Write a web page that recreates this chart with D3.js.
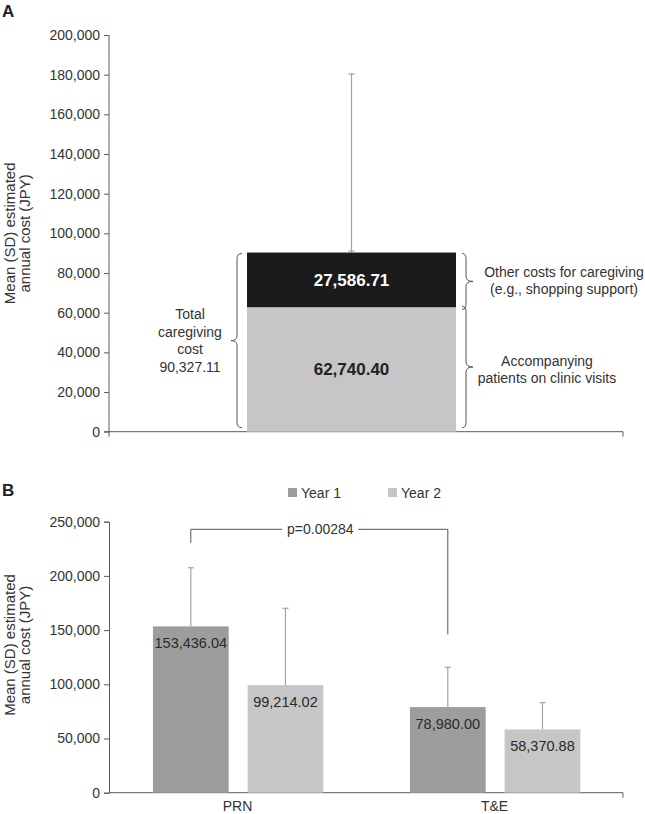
<!DOCTYPE html>
<html>
<head>
<meta charset="utf-8">
<script src="https://cdn.jsdelivr.net/npm/d3@7"></script>
<style>
  html, body { margin: 0; padding: 0; background: #fff; }
  svg { display: block; font-family: "Liberation Sans", Arial, sans-serif; }
</style>
</head>
<body>
<svg id="chart" width="645" height="814"></svg>
<script>
// ---------- Panel A data ----------
const categoriesA = ["Total caregiving"];
const segmentNames = ["Accompanying patients on clinic visits", "Other costs for caregiving"];
const segmentValues = [62740.40, 27586.71];
const totalA = 90327.11;
const totalSD_A = 90000;
const yTicksA = [0, 20000, 40000, 60000, 80000, 100000, 120000, 140000, 160000, 180000, 200000];

// ---------- Panel B data ----------
const groupsB = ["PRN", "T&E"];
const seriesB = ["Year 1", "Year 2"];
const year1Means = [153436.04, 78980.00];
const year2Means = [99214.02, 58370.88];
const year1SD = [54100, 36700];
const year2SD = [70900, 24700];
const yTicksB = [0, 50000, 100000, 150000, 200000, 250000];
const pLabel = "p=0.00284";
const pBracket = { top: 243000, leftEnd: 230500, rightEnd: 146000 };

const fmt = d3.format(",");
const fmt2 = d3.format(",.2f");
const axisColor = "#5c5c5c";
const textColor = "#333";
const errColor = "#a3a3a3";

const svg = d3.select("#chart");

function styleAxis(g) {
  g.select(".domain").attr("stroke", axisColor);
  g.selectAll(".tick line").attr("stroke", axisColor);
  g.selectAll(".tick text").attr("fill", textColor).style("font-size", "14px");
}

function brace(x0, y1, y2, dir, rx, tip) {
  const xv = x0 + dir * rx, xt = x0 + dir * (rx + tip), ym = (y1 + y2) / 2, r = 5;
  return `M${x0},${y1} Q${xv},${y1} ${xv},${y1 + r} L${xv},${ym - r} Q${xv},${ym} ${xt},${ym}` +
         ` Q${xv},${ym} ${xv},${ym + r} L${xv},${y2 - r} Q${xv},${y2} ${x0},${y2}`;
}

// ================= PANEL A =================
const left = 109, right = 623;
const yA = d3.scaleLinear().domain([0, 200000]).range([431.7, 35]);
const xA = d3.scaleBand().domain(categoriesA).range([247, 456]);

svg.append("text").attr("x", 2).attr("y", 17).text("A")
  .style("font-size", "17px").style("font-weight", "bold").attr("fill", "#222");

const gA = svg.append("g");
gA.append("g").attr("transform", `translate(${left},0)`)
  .call(d3.axisLeft(yA).tickValues(yTicksA).tickFormat(fmt).tickSize(5).tickPadding(4))
  .call(styleAxis)
  .call(g => g.select(".domain").attr("d", `M0,${yA(200000)}V${yA(0) + 5}`));

gA.append("path").attr("fill", "none").attr("stroke", axisColor)
  .attr("d", `M${left - 5},${yA(0)}H${right}V${yA(0) + 5}`);

const stackA = [];
let acc = 0;
segmentValues.forEach((v, i) => { stackA.push({ name: segmentNames[i], y0: acc, y1: acc + v, v }); acc += v; });
const segColors = ["#c6c6c6", "#1b1b1b"];
const segText = ["#222", "#fff"];

const cxA = xA(categoriesA[0]) + xA.bandwidth() / 2;
gA.append("line").attr("x1", cxA).attr("x2", cxA)
  .attr("y1", yA(totalA)).attr("y2", yA(totalA + totalSD_A))
  .attr("stroke", errColor).attr("stroke-width", 1.2);
gA.append("line").attr("x1", cxA - 3).attr("x2", cxA + 3)
  .attr("y1", yA(totalA + totalSD_A)).attr("y2", yA(totalA + totalSD_A))
  .attr("stroke", errColor).attr("stroke-width", 1.2);
gA.append("line").attr("x1", cxA - 3).attr("x2", cxA + 3)
  .attr("y1", yA(totalA) - 1.5).attr("y2", yA(totalA) - 1.5)
  .attr("stroke", errColor).attr("stroke-width", 1.2);

gA.selectAll("rect.seg").data(stackA).join("rect").attr("class", "seg")
  .attr("x", xA(categoriesA[0])).attr("width", xA.bandwidth())
  .attr("y", d => yA(d.y1)).attr("height", d => yA(d.y0) - yA(d.y1))
  .attr("fill", (d, i) => segColors[i]);

gA.selectAll("text.segl").data(stackA).join("text").attr("class", "segl")
  .attr("x", cxA).attr("y", d => (yA(d.y0) + yA(d.y1)) / 2)
  .attr("dy", "0.35em").attr("text-anchor", "middle")
  .style("font-size", "17px").style("font-weight", "bold")
  .attr("fill", (d, i) => segText[i]).text(d => fmt2(d.v));

const braceStyle = p => p.attr("fill", "none").attr("stroke", "#555").attr("stroke-width", 1);
gA.append("path").attr("d", brace(242, yA(totalA) + 1, yA(0) - 4, -1, 5, 6)).call(braceStyle);
gA.append("path").attr("d", brace(462, yA(stackA[1].y1) + 1, yA(stackA[1].y0) + 2, 1, 4, 7)).call(braceStyle);
gA.append("path").attr("d", brace(462, yA(stackA[0].y1) - 1, yA(0) - 4, 1, 4, 7)).call(braceStyle);

const leftLines = ["Total", "caregiving", "cost", fmt2(totalA)];
gA.append("text").attr("text-anchor", "middle").attr("fill", textColor).style("font-size", "14px")
  .selectAll("tspan").data(leftLines).join("tspan")
  .attr("x", 190).attr("y", (d, i) => 319 + i * 17.5).text(d => d);
gA.append("text").attr("text-anchor", "middle").attr("fill", textColor).style("font-size", "14px")
  .selectAll("tspan").data(["Other costs for caregiving", "(e.g., shopping support)"]).join("tspan")
  .attr("x", 564).attr("y", (d, i) => 277 + i * 16.5).text(d => d);
gA.append("text").attr("text-anchor", "middle").attr("fill", textColor).style("font-size", "14px")
  .selectAll("tspan").data(["Accompanying", "patients on clinic visits"]).join("tspan")
  .attr("x", 547).attr("y", (d, i) => 366 + i * 16.5).text(d => d);

svg.append("text").attr("transform", `translate(15,${(yA(0) + yA(200000)) / 2}) rotate(-90)`)
  .attr("text-anchor", "middle").attr("fill", textColor).style("font-size", "15px")
  .selectAll("tspan").data(["Mean (SD) estimated", "annual cost (JPY)"]).join("tspan")
  .attr("x", 0).attr("y", (d, i) => i * 15).text(d => d);

// ================= PANEL B =================
const yB = d3.scaleLinear().domain([0, 250000]).range([792.7, 521.7]);
const x0B = d3.scaleBand().domain(groupsB).range([left, right]);
const bw = x0B.bandwidth();
const x1B = d3.scaleBand().domain(seriesB).range([bw * 0.171, bw * 0.834]).paddingInner(0.2);
const colorsB = ["#9d9d9d", "#c6c6c6"];

svg.append("text").attr("x", 2).attr("y", 496).text("B")
  .style("font-size", "17px").style("font-weight", "bold").attr("fill", "#222");

const gB = svg.append("g");
gB.append("g").attr("transform", `translate(${left},0)`)
  .call(d3.axisLeft(yB).tickValues(yTicksB).tickFormat(fmt).tickSize(5).tickPadding(4))
  .call(styleAxis);
gB.append("path").attr("fill", "none").attr("stroke", axisColor)
  .attr("d", `M${left},${yB(0)}H${right}V${yB(0) + 5}`);

gB.selectAll("text.xl").data(groupsB).join("text").attr("class", "xl")
  .attr("x", d => x0B(d) + bw / 2).attr("y", yB(0) + 18.5)
  .attr("text-anchor", "middle").attr("fill", textColor).style("font-size", "14px").text(d => d);

const barsB = [];
groupsB.forEach((g, i) => {
  barsB.push({ group: g, series: seriesB[0], v: year1Means[i], sd: year1SD[i], c: colorsB[0] });
  barsB.push({ group: g, series: seriesB[1], v: year2Means[i], sd: year2SD[i], c: colorsB[1] });
});
const bx = d => x0B(d.group) + x1B(d.series);
const bc = d => bx(d) + x1B.bandwidth() / 2;

gB.selectAll("line.err").data(barsB).join("line").attr("class", "err")
  .attr("x1", bc).attr("x2", bc).attr("y1", d => yB(d.v)).attr("y2", d => yB(d.v + d.sd))
  .attr("stroke", errColor).attr("stroke-width", 1.2);
gB.selectAll("line.cap").data(barsB).join("line").attr("class", "cap")
  .attr("x1", d => bc(d) - 3).attr("x2", d => bc(d) + 3)
  .attr("y1", d => yB(d.v + d.sd)).attr("y2", d => yB(d.v + d.sd))
  .attr("stroke", errColor).attr("stroke-width", 1.2);

gB.selectAll("rect.bar").data(barsB).join("rect").attr("class", "bar")
  .attr("x", bx).attr("width", x1B.bandwidth())
  .attr("y", d => yB(d.v)).attr("height", d => yB(0) - yB(d.v)).attr("fill", d => d.c);

gB.selectAll("text.bl").data(barsB).join("text").attr("class", "bl")
  .attr("x", bc).attr("y", d => yB(d.v) + 22).attr("text-anchor", "middle")
  .attr("fill", "#2a2a2a").style("font-size", "14.5px").text(d => fmt2(d.v));

const xL = bc(barsB[0]), xR = bc(barsB[2]);
const pMid = (xL + xR) / 2 + 1;
const pHalf = 38;
gB.append("path").attr("fill", "none").attr("stroke", "#555")
  .attr("d", `M${xL},${yB(pBracket.leftEnd)}V${yB(pBracket.top)}H${pMid - pHalf}` +
             `M${pMid + pHalf},${yB(pBracket.top)}H${xR}V${yB(pBracket.rightEnd)}`);
gB.append("text").attr("x", pMid).attr("y", yB(pBracket.top) + 5).attr("text-anchor", "middle")
  .attr("fill", textColor).style("font-size", "14px").text(pLabel);

const legX = [288, 388];
const leg = gB.selectAll("g.leg").data(seriesB).join("g").attr("class", "leg")
  .attr("transform", (d, i) => `translate(${legX[i]},488)`);
leg.append("rect").attr("width", 9).attr("height", 9).attr("fill", (d, i) => colorsB[i]);
leg.append("text").attr("x", 13).attr("y", 9.5).attr("fill", textColor)
  .style("font-size", "14px").text(d => d);

svg.append("text").attr("transform", `translate(15,645) rotate(-90)`)
  .attr("text-anchor", "middle").attr("fill", textColor).style("font-size", "15px")
  .selectAll("tspan").data(["Mean (SD) estimated", "annual cost (JPY)"]).join("tspan")
  .attr("x", 0).attr("y", (d, i) => i * 15).text(d => d);
</script>
</body>
</html>
